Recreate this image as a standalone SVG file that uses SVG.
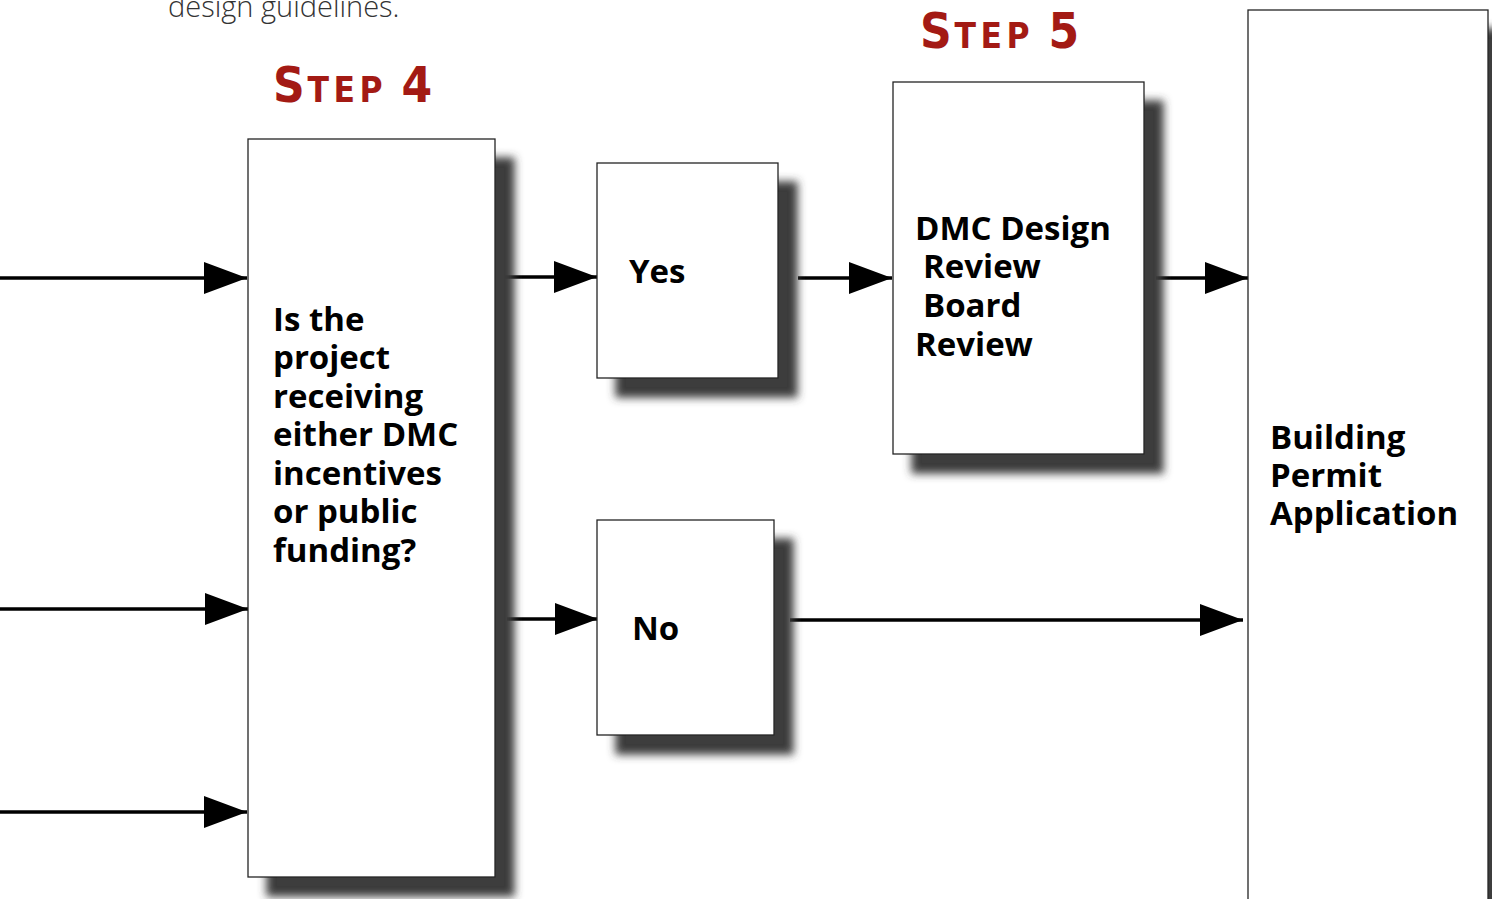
<svg xmlns="http://www.w3.org/2000/svg" width="1492" height="899" viewBox="0 0 1492 899">
<defs>
<filter id="sh" x="-20%" y="-20%" width="150%" height="150%">
<feGaussianBlur in="SourceAlpha" stdDeviation="4" result="b"/>
<feOffset in="b" dx="19" dy="19" result="o"/>
<feFlood flood-color="#3c3c3c"/>
<feComposite in2="o" operator="in" result="s"/>
<feMerge><feMergeNode in="s"/><feMergeNode in="SourceGraphic"/></feMerge>
</filter>
<marker id="ah" markerWidth="43" markerHeight="32" refX="43" refY="16" orient="auto" markerUnits="userSpaceOnUse">
<path d="M0,0 L43,16 L0,32 Z" fill="#000"/>
</marker>
<style>
.box{fill:#fff;stroke:#222;stroke-width:1.3;filter:url(#sh)}
.lbl{font-family:"Open Sans","Noto Sans",sans-serif;font-weight:700;font-size:33px;fill:#000}
.step{font-family:"DejaVu Sans",sans-serif;font-weight:bold;fill:#a31a14}
.con{stroke:#000;stroke-width:3.5;fill:none;marker-end:url(#ah)}
</style>
</defs>
<rect width="1492" height="899" fill="#fff"/>
<text x="168" y="17" font-family="Open Sans, sans-serif" font-weight="300" font-size="29" fill="#333">design guidelines.</text>
<text class="step" transform="translate(273,102) scale(0.9,1)"><tspan font-size="49">S</tspan><tspan font-size="35" dx="3" letter-spacing="5">TEP</tspan><tspan font-size="49" dx="16">4</tspan></text>
<text class="step" transform="translate(920,48) scale(0.9,1)"><tspan font-size="49">S</tspan><tspan font-size="35" dx="3" letter-spacing="5">TEP</tspan><tspan font-size="49" dx="16">5</tspan></text>
<g id="connectors">
<line class="con" x1="0" y1="278" x2="247" y2="278"/>
<line class="con" x1="0" y1="609" x2="248" y2="609"/>
<line class="con" x1="0" y1="812" x2="247" y2="812"/>
<line class="con" x1="505" y1="277" x2="597" y2="277"/>
<line class="con" x1="798" y1="278" x2="892" y2="278"/>
<line class="con" x1="1156" y1="278" x2="1248" y2="278"/>
<line class="con" x1="507" y1="619" x2="598" y2="619"/>
<line class="con" x1="790" y1="620" x2="1243" y2="620"/>
</g>
<g id="node-step4">
<rect class="box" x="248" y="139" width="247" height="738"/>
<text class="lbl" x="273" y="331">Is the</text>
<text class="lbl" x="273" y="369">project</text>
<text class="lbl" x="273" y="408">receiving</text>
<text class="lbl" x="273" y="446">either DMC</text>
<text class="lbl" x="273" y="485">incentives</text>
<text class="lbl" x="273" y="523">or public</text>
<text class="lbl" x="273" y="562">funding?</text>
</g>
<g id="node-yes">
<rect class="box" x="597" y="163" width="181" height="215"/>
<text class="lbl" x="629" y="283">Yes</text>
</g>
<g id="node-no">
<rect class="box" x="597" y="520" width="177" height="215"/>
<text class="lbl" x="632" y="640">No</text>
</g>
<g id="node-dmc">
<rect class="box" x="893" y="82" width="251" height="372"/>
<text class="lbl" x="915" y="240">DMC Design</text>
<text class="lbl" x="923" y="278">Review</text>
<text class="lbl" x="923" y="317">Board</text>
<text class="lbl" x="915" y="356">Review</text>
</g>
<g id="node-permit">
<rect class="box" x="1248" y="10" width="240" height="920"/>
<text class="lbl" x="1270" y="449">Building</text>
<text class="lbl" x="1270" y="487">Permit</text>
<text class="lbl" x="1270" y="525">Application</text>
</g>
</svg>
